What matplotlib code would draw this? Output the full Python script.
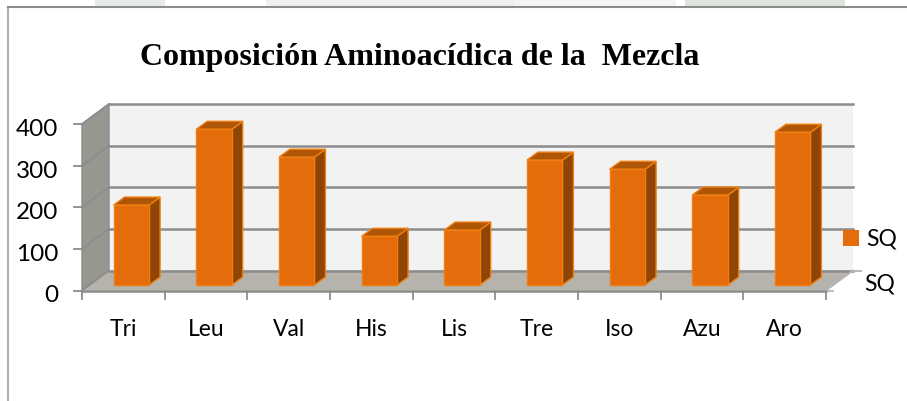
# libraries
import numpy as np
import matplotlib
matplotlib.use('Agg')
import matplotlib.pyplot as plt
from matplotlib.patches import Polygon

categories = ['Tri', 'Leu', 'Val', 'His', 'Lis', 'Tre', 'Iso', 'Azu', 'Aro']
values = [192, 374, 307, 117, 132, 300, 278, 216, 367]
y_ticks = [0, 100, 200, 300, 400]
series_name = 'SQ'
title = 'Composición Aminoacídica de la  Mezcla'

W, H = 907, 402
plt.rcParams['font.family'] = ['Lato', 'DejaVu Sans']

fig = plt.figure(figsize=(W / 100, H / 100), dpi=100)

# frame of the picture, in pixels (above the chart axes so the legend is not hidden)
bg = fig.add_axes([0, 0, 1, 1], zorder=5)
bg.set_xlim(0, W)
bg.set_ylim(H, 0)
bg.axis('off')
bg.plot([8, 8], [H, 8], color='#b0b0b0', lw=1.5)
bg.plot([8, W], [8, 8], color='#8c8c8c', lw=1.5)

# faint watermark cut off above the frame
bg.fill_between([95, 165], 0, 7, color='#e8ece8', lw=0)
bg.fill_between([266, 514], 0, 7, color='#eef1ee', lw=0)
bg.fill_between([514, 676], 0, 7, color='#f3f5f3', lw=0)
bg.fill_between([685, 845], 0, 7, color='#dfe4df', lw=0)

# front plane of the 3D box
left, right, bottom, top = 82, 826, 291.5, 125
ax = fig.add_axes([left / W, 1 - bottom / H, (right - left) / W, (bottom - top) / H])
ax.set_xlim(-0.5, 8.5)
ax.set_ylim(0, 400)
ax.axis('off')

px_x = (right - left) / 9      # pixels per category
px_y = (bottom - top) / 400    # pixels per unit

# depth of the box and of the bars
box_dx, box_dy = 27 / px_x, 20 / px_y
bar_dx, bar_dy = 11 / px_x, 8 / px_y
bar_w = 35.5 / px_x
bar_shift = 8 / px_x
bar_base = 5.5 / px_y


def poly(pts, **kw):
    ax.add_patch(Polygon(pts, closed=True, clip_on=False, **kw))


x0, x1 = -0.5, 8.5
# back wall, side wall, floor
poly([(x0 + box_dx, box_dy), (x1 + box_dx, box_dy), (x1 + box_dx, 400 + box_dy), (x0 + box_dx, 400 + box_dy)],
     facecolor='#f2f2f2', edgecolor='none', zorder=1)
poly([(x0, 0), (x0 + box_dx, box_dy), (x0 + box_dx, 400 + box_dy), (x0, 400)],
     facecolor='#97978f', edgecolor='#8c8c8c', lw=1, zorder=1)
poly([(x0, 0), (x1, 0), (x1 + box_dx, box_dy), (x0 + box_dx, box_dy)],
     facecolor='#b5b3ab', edgecolor='none', zorder=1)

# gridlines on the walls
for t in y_ticks:
    ax.plot([x0 + box_dx, x1 + box_dx], [t + box_dy, t + box_dy], color='#8c8c8c', lw=1.8, clip_on=False, zorder=2)
    ax.plot([x0, x0 + box_dx], [t, t + box_dy], color='#8c8c8c', lw=1.3, clip_on=False, zorder=2)
    ax.plot([x0 - 8 / px_x, x0], [t, t], color='#8c8c8c', lw=1.3, clip_on=False, zorder=2)
    ax.text(x0 - 24 / px_x, t - 4.5 / px_y, str(t), ha='right', va='center', fontsize=17.5, color='black')

# floor edges, x ticks and the small depth-axis ticks
ax.plot([x0, x1], [0, 0], color='#8c8c8c', lw=1.8, clip_on=False, zorder=2)
ax.plot([x1, x1 + box_dx], [0, box_dy], color='#b5b5b5', lw=1.3, clip_on=False, zorder=2)
ax.plot([x1, x1 + 7 / px_x], [0, 0], color='#b5b5b5', lw=1.3, clip_on=False, zorder=2)
ax.plot([x1 + box_dx, x1 + box_dx + 8 / px_x], [box_dy, box_dy], color='#b5b5b5', lw=1.3, clip_on=False, zorder=2)
for i in range(len(categories) + 1):
    ax.plot([i - 0.5, i - 0.5], [0, -8.5 / px_y], color='#8c8c8c', lw=1.3, clip_on=False, zorder=2)

# bars
edge = '#f07f12'
for i, v in enumerate(values):
    xa = i + bar_shift - bar_w / 2
    xb = xa + bar_w
    ya = bar_base
    yb = bar_base + v
    poly([(xb, ya), (xb + bar_dx, ya + bar_dy), (xb + bar_dx, yb + bar_dy), (xb, yb)],
         facecolor='#8f4504', edgecolor=edge, lw=1, zorder=3)
    poly([(xa, yb), (xb, yb), (xb + bar_dx, yb + bar_dy), (xa + bar_dx, yb + bar_dy)],
         facecolor='#ae5506', edgecolor=edge, lw=1, zorder=3)
    ax.bar(i + bar_shift, v, bottom=bar_base, width=bar_w, color='#e46c0a', edgecolor=edge, lw=1, zorder=4)

for i, c in enumerate(categories):
    ax.text(i, -38 / px_y, c, ha='center', va='center', fontsize=16.5, color='black')

# legend and depth axis label, in pixels
bg.add_patch(plt.Rectangle((843, 231), 16, 16, facecolor='#e46c0a', edgecolor='none'))
bg.text(866, 239, series_name, ha='left', va='center', fontsize=16.5, color='black')
bg.text(864, 284, series_name, ha='left', va='center', fontsize=16.5, color='black')

bg.text(419.5, 58, title, ha='center', va='center', fontsize=23, fontweight='bold',
        family='Liberation Serif', color='black')

fig.savefig('out.png', dpi=100)
